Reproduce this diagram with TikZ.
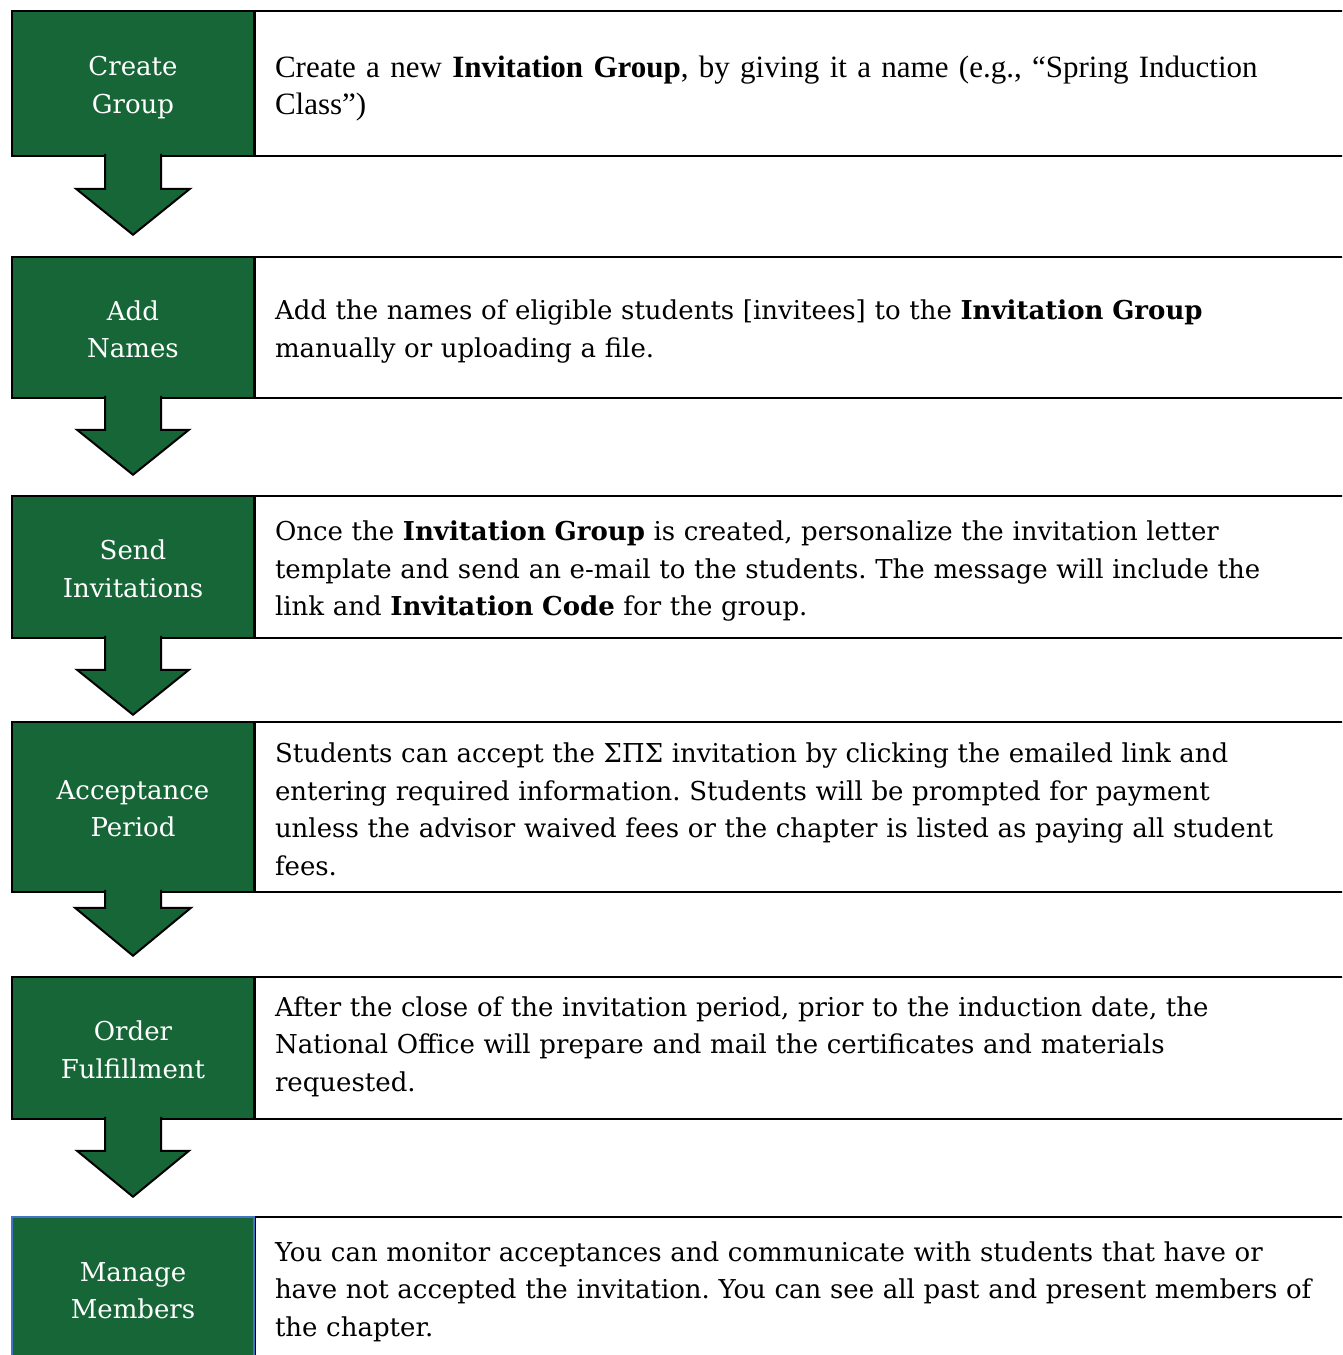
\documentclass[tikz,border=0pt]{standalone}
\usepackage{fontspec}
\setmainfont{DejaVu Serif}
\newfontfamily\timesfont{Liberation Serif}
\usetikzlibrary{positioning}
\definecolor{sigmagreen}{RGB}{22,102,55}
\definecolor{edgeblue}{RGB}{68,114,196}
\tikzset{
stepbox/.style={draw=black,line width=2.5pt,fill=sigmagreen,text=white,minimum width=242pt,inner sep=0pt,align=center,text height=61pt,font=\fontsize{26}{37.5}\selectfont},
infobox/.style={draw=black,line width=2pt,fill=white,anchor=west,text width=1070pt,inner xsep=20pt,inner ysep=0pt,align=left,text height=28pt,font=\fontsize{26}{37.5}\selectfont\frenchspacing},
pointer/.style={draw=black,line width=2pt,fill=sigmagreen,line join=miter}
}
\begin{document}
\begin{tikzpicture}[x=1pt,y=-1pt]
\useasboundingbox (0,0) rectangle (1342,1355);
\clip (0,0) rectangle (1342,1355);
\fill[white] (0,0) rectangle (1342,1355);

\node[infobox,minimum height=145,text height=32pt,font=\timesfont\fontsize{31}{37}\selectfont\frenchspacing] (d1) at (254,83.5) {Create a new \textbf{Invitation Group}, by giving it a name (e.g., “Spring Induction\\Class”)};
\node[infobox,minimum height=141] (d2) at (254,327.5) {Add the names of eligible students [invitees] to the \textbf{Invitation Group}\\manually or uploading a file.};
\node[infobox,minimum height=142] (d3) at (254,567) {Once the \textbf{Invitation Group} is created, personalize the invitation letter\\template and send an e-mail to the students. The message will include the\\link and \textbf{Invitation Code} for the group.};
\node[infobox,minimum height=170,text height=24pt] (d4) at (254,807) {Students can accept the ΣΠΣ invitation by clicking the emailed link and\\entering required information. Students will be prompted for payment\\unless the advisor waived fees or the chapter is listed as paying all student\\fees.};
\node[infobox,minimum height=142,text height=17pt] (d5) at (254,1048) {After the close of the invitation period, prior to the induction date, the\\National Office will prepare and mail the certificates and materials\\requested.};
\node[infobox,minimum height=146,text height=23pt] (d6) at (254,1290) {You can monitor acceptances and communicate with students that have or\\have not accepted the invitation. You can see all past and present members of\\the chapter.};

\node[stepbox,minimum height=145,text height=65pt] (g1) at (133,83.5) {Create\\Group};
\node[stepbox,minimum height=141] (g2) at (133,327.5) {Add\\Names};
\node[stepbox,minimum height=142] (g3) at (133,567) {Send\\Invitations};
\node[stepbox,minimum height=170,text height=60pt] (g4) at (133,807) {Acceptance\\Period};
\node[stepbox,minimum height=142] (g5) at (133,1048) {Order\\Fulfillment};
\node[stepbox,minimum height=146,text height=58pt,draw=edgeblue,line width=1.5pt] (g6) at (133,1290) {Manage\\Members};

\filldraw[pointer] (g1.south) ++(-28,-3.5) -- ++(0,35) -- ++(-29,0) -- ++(57,46) -- ++(57,-46) -- ++(-29,0) -- ++(0,-35);
\filldraw[pointer] (g2.south) ++(-28,-3.5) -- ++(0,34) -- ++(-28,0) -- ++(56,45) -- ++(56,-45) -- ++(-28,0) -- ++(0,-34);
\filldraw[pointer] (g3.south) ++(-28,-3.5) -- ++(0,34) -- ++(-28,0) -- ++(56,45) -- ++(56,-45) -- ++(-28,0) -- ++(0,-34);
\filldraw[pointer] (g4.south) ++(-28,-3.5) -- ++(0,18) -- ++(-30,0) -- ++(58,48) -- ++(58,-48) -- ++(-30,0) -- ++(0,-18);
\filldraw[pointer] (g5.south) ++(-28,-3.5) -- ++(0,34) -- ++(-28,0) -- ++(56,46) -- ++(56,-46) -- ++(-28,0) -- ++(0,-34);
\end{tikzpicture}
\end{document}
